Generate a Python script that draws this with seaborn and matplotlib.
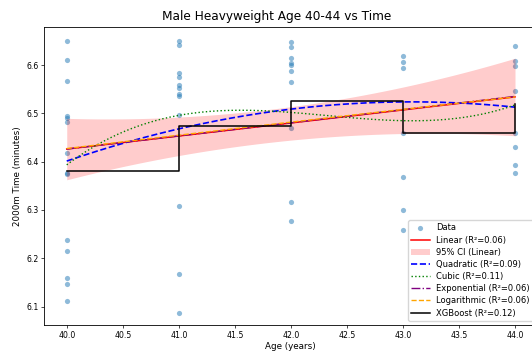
import numpy as np
import pandas as pd
import matplotlib
matplotlib.use("Agg")
import matplotlib.pyplot as plt
import seaborn as sns

# 2000m times (minutes) by age
ages = [40, 41, 42, 43, 44]
times_40 = [6.650, 6.610, 6.567, 6.494, 6.491, 6.481, 6.417, 6.377, 6.375,
            6.238, 6.215, 6.158, 6.146, 6.112]
times_41 = [6.650, 6.642, 6.584, 6.576, 6.559, 6.552, 6.541, 6.536, 6.497,
            6.308, 6.167, 6.087]
times_42 = [6.648, 6.638, 6.614, 6.605, 6.601, 6.587, 6.564, 6.469, 6.317, 6.278]
times_43 = [6.619, 6.607, 6.593, 6.460, 6.369, 6.300, 6.258]
times_44 = [6.639, 6.609, 6.598, 6.546, 6.460, 6.430, 6.393, 6.376]

# fitted model values at each age
linear_ends = [6.426, 6.534]          # at ages 40 and 44
exp_ends = [6.426, 6.535]
log_ends = [6.427, 6.534]
quad_curve = [6.400, 6.470, 6.509, 6.521, 6.514]
cubic_curve = [6.393, 6.497, 6.500, 6.486, 6.517]
ci_lower = [6.362, 6.412, 6.448, 6.454, 6.455]
ci_upper = [6.489, 6.494, 6.512, 6.555, 6.614]
xgb_levels = [6.381, 6.474, 6.525, 6.460, 6.519]

r2 = {"Linear": 0.06, "Quadratic": 0.09, "Cubic": 0.11,
      "Exponential": 0.06, "Logarithmic": 0.06, "XGBoost": 0.12}

groups = [times_40, times_41, times_42, times_43, times_44]
df = pd.DataFrame({
    "age": np.concatenate([[a] * len(g) for a, g in zip(ages, groups)]),
    "time": np.concatenate(groups),
})

fig = plt.figure(figsize=(5.32, 3.53), dpi=100)
ax = fig.add_axes([0.0833, 0.0793, 0.9269, 0.8442])

sns.scatterplot(data=df, x="age", y="time", ax=ax, color="#1f77b4",
                alpha=0.5, s=14, linewidth=0, label="Data")

xs = np.linspace(ages[0], ages[-1], 300)

# linear fit
lin = np.polyfit([ages[0], ages[-1]], linear_ends, 1)
sns.lineplot(x=xs, y=np.polyval(lin, xs), ax=ax, color="red", lw=1.1,
             label=f"Linear (R²={r2['Linear']:.2f})")

# confidence band around the linear fit
lo = np.polyval(np.polyfit(ages, ci_lower, 2), xs)
hi = np.polyval(np.polyfit(ages, ci_upper, 2), xs)
ax.fill_between(xs, lo, hi, color="red", alpha=0.2, linewidth=0,
                label="95% CI (Linear)")

# polynomial fits
quad = np.polyfit(ages, quad_curve, 2)
ax.plot(xs, np.polyval(quad, xs), color="blue", ls="--", lw=1.2,
        label=f"Quadratic (R²={r2['Quadratic']:.2f})")
cub = np.polyfit(ages, cubic_curve, 3)
ax.plot(xs, np.polyval(cub, xs), color="green", ls=":", lw=1.0,
        label=f"Cubic (R²={r2['Cubic']:.2f})")

# exponential fit y = a * exp(b x)
b_exp = np.log(exp_ends[1] / exp_ends[0]) / (ages[-1] - ages[0])
a_exp = exp_ends[0] / np.exp(b_exp * ages[0])
ax.plot(xs, a_exp * np.exp(b_exp * xs), color="purple", ls="-.", lw=1.0,
        label=f"Exponential (R²={r2['Exponential']:.2f})")

# logarithmic fit y = a + b ln(x)
b_log = (log_ends[1] - log_ends[0]) / (np.log(ages[-1]) - np.log(ages[0]))
a_log = log_ends[0] - b_log * np.log(ages[0])
ax.plot(xs, a_log + b_log * np.log(xs), color="orange", ls="--", lw=1.0,
        label=f"Logarithmic (R²={r2['Logarithmic']:.2f})")

# gradient boosted trees: piecewise constant by age
ax.plot(ages, xgb_levels, color="black", lw=1.1, drawstyle="steps-post",
        label=f"XGBoost (R²={r2['XGBoost']:.2f})")

ax.set_xlim(39.8, 44.2)
ax.set_ylim(6.0617, 6.6787)
ax.set_xticks(np.arange(40, 44.01, 0.5))
ax.set_title("Male Heavyweight Age 40-44 vs Time", fontsize=8.7, pad=5, x=0.471)
ax.set_xlabel("Age (years)", fontsize=6.3, labelpad=2)
ax.set_ylabel("2000m Time (minutes)", fontsize=6.3, labelpad=3)
ax.tick_params(labelsize=5.6, length=2, width=0.5, pad=2)
for sp in ax.spines.values():
    sp.set_linewidth(0.6)

ax.legend(loc="lower right", fontsize=6.0, framealpha=0.8, borderaxespad=0.5,
          labelspacing=0.38, handlelength=2.2)

fig.savefig("out.png", dpi=100)
